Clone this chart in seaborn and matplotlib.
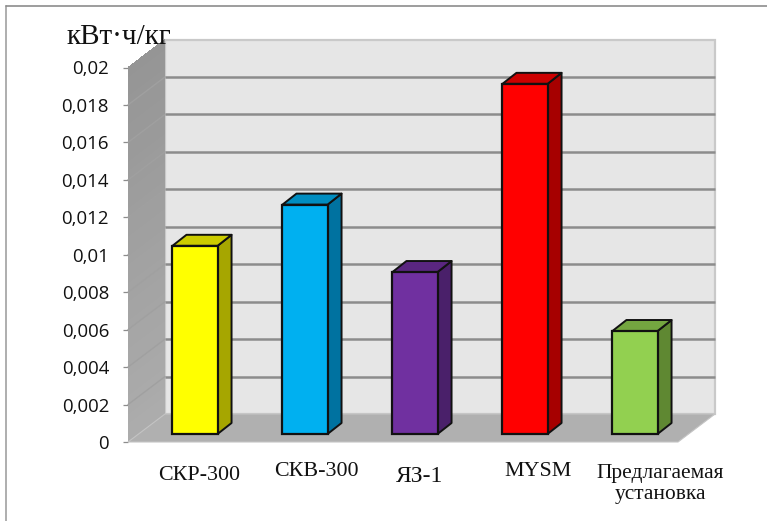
import matplotlib
matplotlib.use('Agg')
import matplotlib.pyplot as plt
import matplotlib.transforms as mtrans
from matplotlib.patches import Polygon, Rectangle
import numpy as np
import pandas as pd
import seaborn as sns

categories = ['СКР-300', 'СКВ-300', 'ЯЗ-1', 'MYSM', 'Предлагаемая\nустановка']
values = [0.01005, 0.01225, 0.00865, 0.0187, 0.0055]
front_colors = ['#ffff00', '#00b0f0', '#7030a0', '#ff0000', '#92d050']
side_colors = ['#a6a600', '#0072a0', '#4a206a', '#a60000', '#5f8832']
top_colors = ['#cccc00', '#008dc0', '#5a2680', '#cc0000', '#74a640']
y_ticks = np.arange(0, 0.0201, 0.002)
y_labels = ['0', '0,002', '0,004', '0,006', '0,008', '0,01', '0,012',
            '0,014', '0,016', '0,018', '0,02']
unit_label = 'кВт·ч/кг'

W, H = 767, 521
# plot box in image pixels (front plane)
LEFT, RIGHT, TOP, BOTTOM = 128, 678, 67.5, 442
DEPTH_X, DEPTH_Y = 37, 28     # back wall offset
BAR_X, BAR_Y = 12, 8          # bars stand a little inside the floor
SIDE_X, SIDE_Y = 14, 11       # depth of each bar

df = pd.DataFrame({'name': categories, 'value': values})

sns.set_theme(style='white')
fig = plt.figure(figsize=(W / 100, H / 100), dpi=100)
ax = fig.add_axes([LEFT / W, 1 - BOTTOM / H, (RIGHT - LEFT) / W, (BOTTOM - TOP) / H])


def shift(dx, dy):
    return ax.transData + mtrans.Affine2D().translate(dx, dy)


sns.barplot(data=df, x='name', y='value', hue='name', palette=front_colors,
            legend=False, width=0.41, saturation=1, edgecolor='#111111',
            linewidth=1.6, ax=ax, zorder=5)
ax.set_xlim(-0.5, 4.5)
ax.set_ylim(0, 0.02)

back = shift(DEPTH_X, DEPTH_Y)
x0, x1, y0, y1 = -0.5, 4.5, 0, 0.02

# back wall, with soft shadow edge
ax.add_patch(Rectangle((x0, y0), x1 - x0, y1 - y0, transform=back, fc='#e6e6e6',
                       ec='#c9c9c9', lw=1.6, clip_on=False, zorder=1))
for t in y_ticks[1:-1]:
    ax.plot([x0, x1], [t, t], transform=back, color='#8c8c8c', lw=1.8,
            clip_on=False, zorder=2, solid_capstyle='butt')

# left wall, darker at the top
steps = 40
levels = np.linspace(0, 0.02, steps + 1)
greys = np.linspace(0.675, 0.585, steps)
dx_data = DEPTH_X / (RIGHT - LEFT) * (x1 - x0)
dy_data = DEPTH_Y / (BOTTOM - TOP) * (y1 - y0)
for a, b, g in zip(levels[:-1], levels[1:], greys):
    ax.add_patch(Polygon([(x0, a), (x0 + dx_data, a + dy_data),
                          (x0 + dx_data, b + dy_data), (x0, b)],
                         fc=str(g), ec='none', antialiased=False, clip_on=False, zorder=2))
for t in y_ticks[1:-1]:
    ax.plot([x0, x0 + dx_data], [t, t + dy_data], color='#a0a0a0', lw=1.0,
            clip_on=False, zorder=3)

# floor
ax.add_patch(Polygon([(x0, y0), (x1, y0), (x1 + dx_data, dy_data), (x0 + dx_data, dy_data)],
                     fc='#b0b0b0', ec='#c4c4c4', lw=0.8, clip_on=False, zorder=3))

# bars: move the faces seaborn drew, then add sides and tops
bar_shift = shift(BAR_X, BAR_Y)
side_dx = SIDE_X / (RIGHT - LEFT) * (x1 - x0)
side_dy = SIDE_Y / (BOTTOM - TOP) * (y1 - y0)
for patch, side, top in zip(ax.patches[:5], side_colors, top_colors):
    patch.set_transform(bar_shift)
    patch.set_clip_on(False)
    xa = patch.get_x()
    xb = xa + patch.get_width()
    v = patch.get_height()
    ax.add_patch(Polygon([(xb, 0), (xb + side_dx, side_dy), (xb + side_dx, v + side_dy), (xb, v)],
                         transform=bar_shift, fc=side, ec='#111111', lw=1.4,
                         clip_on=False, zorder=4, joinstyle='round'))
    ax.add_patch(Polygon([(xa, v), (xa + side_dx, v + side_dy), (xb + side_dx, v + side_dy), (xb, v)],
                         transform=bar_shift, fc=top, ec='#111111', lw=1.4,
                         clip_on=False, zorder=4, joinstyle='round'))

# axes
sns.despine(ax=ax, left=True, bottom=True, top=True, right=True)
ax.set_xlabel('')
ax.set_ylabel('')
ax.set_xticks([])
ax.set_yticks(y_ticks)
ax.set_yticklabels(y_labels, fontfamily='Open Sans', fontsize=13.4, color='#111111')
ax.tick_params(axis='y', length=3.6, width=0.9, color='#8c8c8c', pad=10, left=True)

# category labels, hand placed like in the source document
label_x = [199, 316, 420, 538, 660]
label_y = [475, 472, 476, 471, 484]
label_size = [15.8, 15.8, 17, 15.8, 15.4]
for name, lx, ly, sz in zip(categories, label_x, label_y, label_size):
    fig.text(lx / W, 1 - ly / H, name, family='Liberation Serif', fontsize=sz,
             ha='center', va='center', color='#111111', linespacing=1.15)

fig.text(67 / W, 1 - 37 / H, unit_label, family='Liberation Serif', fontsize=21,
         ha='left', va='center', color='#111111', zorder=10)

# frame of the pasted picture
fig.add_artist(plt.Line2D([6 / W, 6 / W], [0, 1 - 6 / H], color='#a8a8a8', lw=1.3))
fig.add_artist(plt.Line2D([6 / W, 1], [1 - 6 / H, 1 - 6 / H], color='#8c8c8c', lw=1.2))

fig.savefig('out.png', dpi=100)
